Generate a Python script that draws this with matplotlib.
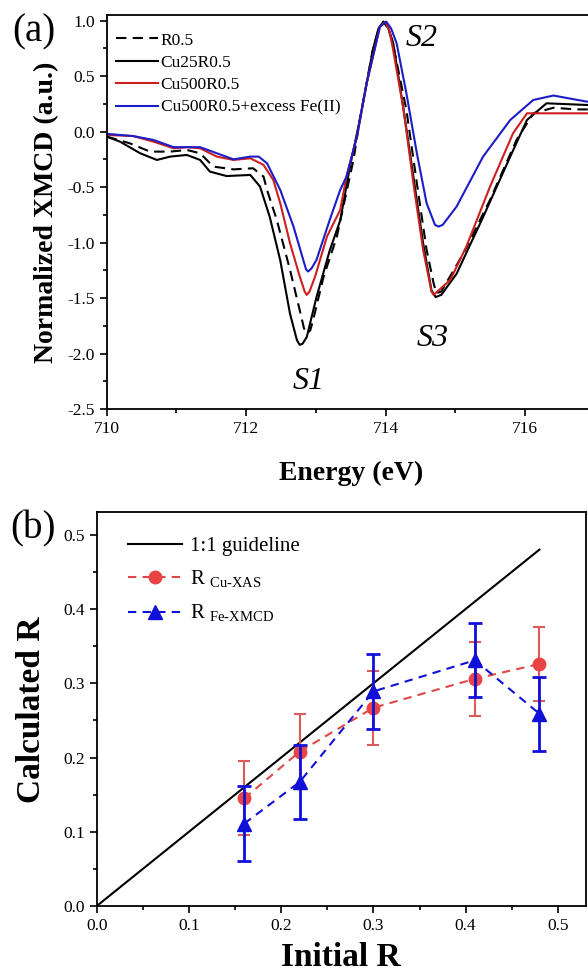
import numpy as np
import matplotlib
matplotlib.use("Agg")
import matplotlib.pyplot as plt
from matplotlib.ticker import MultipleLocator

plt.rcParams['font.family'] = ['Liberation Serif', 'DejaVu Serif']
plt.rcParams['mathtext.fontset'] = 'custom'
plt.rcParams['mathtext.rm'] = 'Liberation Serif'
plt.rcParams['axes.unicode_minus'] = False

# (a) XMCD spectra
e_r05 = [710.0, 710.33, 710.62, 710.91, 711.15, 711.34, 711.53, 711.82, 712.10, 712.25,
         712.30, 712.44, 712.63, 712.77, 712.83, 712.87, 712.92, 712.96, 713.11, 713.30, 713.54,
         713.63, 713.82, 713.90, 713.97, 714.04, 714.11, 714.30, 714.45, 714.59, 714.69, 714.73,
         714.80, 715.12, 715.50, 715.88, 716.12, 716.41, 716.74, 717.0]
y_r05 = [-0.045, -0.105, -0.18, -0.18, -0.165, -0.195, -0.315, -0.34, -0.33, -0.405,
         -0.525, -0.795, -1.245, -1.61, -1.77, -1.82, -1.79, -1.70, -1.31, -0.95, -0.255,
         0.105, 0.74, 0.92, 0.99, 0.93, 0.78, 0.195, -0.465, -1.065, -1.365, -1.455,
         -1.44, -1.095, -0.615, -0.075, 0.165, 0.215, 0.20, 0.20]

e_cu25 = [710.0, 710.19, 710.48, 710.72, 710.91, 711.15, 711.34, 711.48, 711.72, 712.06,
          712.20, 712.34, 712.49, 712.63, 712.73, 712.77, 712.81, 712.87, 713.01, 713.20, 713.35,
          713.49, 713.63, 713.82, 713.90, 713.97, 714.04, 714.11, 714.26, 714.40, 714.54, 714.66,
          714.72, 714.80, 715.02, 715.40, 715.79, 716.03, 716.31, 716.89, 717.0]
y_cu25 = [-0.045, -0.09, -0.195, -0.255, -0.225, -0.21, -0.255, -0.36, -0.40, -0.39,
          -0.495, -0.77, -1.16, -1.64, -1.88, -1.92, -1.91, -1.85, -1.49, -1.07, -0.80,
          -0.315, 0.105, 0.74, 0.93, 0.99, 0.93, 0.80, 0.195, -0.405, -1.005, -1.43,
          -1.49, -1.47, -1.28, -0.77, -0.225, 0.105, 0.255, 0.24, 0.235]

e_cu500 = [710.0, 710.38, 710.67, 710.96, 711.15, 711.34, 711.58, 711.82, 712.06, 712.25,
           712.39, 712.49, 712.63, 712.77, 712.84, 712.87, 712.91, 712.99, 713.16, 713.35, 713.44,
           713.59, 713.73, 713.92, 714.0, 714.06, 714.11, 714.26, 714.40, 714.54, 714.66, 714.69,
           714.93, 715.16, 715.50, 715.83, 716.03, 716.36, 716.89, 717.0]
y_cu500 = [-0.03, -0.04, -0.09, -0.15, -0.14, -0.15, -0.225, -0.255, -0.24, -0.30,
           -0.435, -0.645, -1.005, -1.305, -1.44, -1.47, -1.44, -1.305, -0.945, -0.705, -0.405,
           -0.045, 0.435, 0.945, 0.99, 0.90, 0.735, 0.195, -0.465, -1.065, -1.44, -1.47,
           -1.335, -1.035, -0.495, -0.015, 0.165, 0.165, 0.165, 0.165]

e_fe = [710.0, 710.38, 710.67, 710.96, 711.34, 711.58, 711.82, 712.06, 712.18, 712.30,
        712.49, 712.68, 712.82, 712.86, 712.89, 712.94, 713.01, 713.20, 713.35, 713.44, 713.59,
        713.73, 713.92, 714.01, 714.08, 714.16, 714.30, 714.45, 714.59, 714.71, 714.76, 714.82,
        715.02, 715.40, 715.79, 716.12, 716.41, 716.89, 717.0]
y_fe = [-0.02, -0.04, -0.075, -0.14, -0.14, -0.195, -0.25, -0.225, -0.225, -0.285,
        -0.525, -0.855, -1.155, -1.24, -1.26, -1.23, -1.155, -0.795, -0.525, -0.405, -0.045,
        0.435, 0.945, 0.99, 0.93, 0.795, 0.345, -0.195, -0.645, -0.84, -0.855, -0.84,
        -0.675, -0.225, 0.105, 0.285, 0.325, 0.27, 0.265]

# (b) calculated vs initial R
r_init = [0.16, 0.22, 0.30, 0.41, 0.48]
r_cu = [0.145, 0.208, 0.267, 0.306, 0.326]
r_cu_err = [0.05, 0.05, 0.05, 0.05, 0.05]
r_fe = [0.111, 0.167, 0.289, 0.331, 0.259]
r_fe_err = [0.05, 0.05, 0.05, 0.05, 0.05]
guide = [0.0, 0.48]

fig = plt.figure(figsize=(5.88, 9.76), dpi=100)

# ---- panel (a)
ax1 = fig.add_axes([0.1815, 0.5807, 0.8297, 0.4039])
ax1.plot(e_r05, y_r05, color='black', ls=(0, (5, 3)), lw=1.5, label='R0.5')
ax1.plot(e_cu25, y_cu25, color='black', lw=1.5, label='Cu25R0.5')
ax1.plot(e_cu500, y_cu500, color='#cc1f1f', lw=1.5, label='Cu500R0.5')
ax1.plot(e_fe, y_fe, color='#1c1cc8', lw=1.5, label='Cu500R0.5+excess Fe(II)')
ax1.set_xlim(710, 717)
ax1.set_ylim(-2.5, 1.05)
ax1.xaxis.set_major_locator(MultipleLocator(2))
ax1.xaxis.set_minor_locator(MultipleLocator(1))
ax1.yaxis.set_major_locator(MultipleLocator(0.5))
ax1.yaxis.set_minor_locator(MultipleLocator(0.25))
ax1.set_xlabel('Energy (eV)', fontsize=20, fontweight='bold', labelpad=17)
ax1.set_ylabel('Normalized XMCD (a.u.)', fontsize=20, fontweight='bold', labelpad=6)
ax1.legend(loc='upper left', fontsize=12.5, frameon=False, handlelength=2.4,
           handletextpad=0.15, labelspacing=0.36, borderaxespad=0.6,
           bbox_to_anchor=(-0.016, 1.0))
ax1.text(712.89, -2.25, 'S1', fontsize=23, style='italic', ha='center', va='center')
ax1.text(714.52, 0.84, 'S2', fontsize=23, style='italic', ha='center', va='center')
ax1.text(714.68, -1.86, 'S3', fontsize=23, style='italic', ha='center', va='center')

# ---- panel (b)
ax2 = fig.add_axes([0.1645, 0.0717, 0.8313, 0.4032])
ax2.plot(guide, guide, color='black', lw=1.5, label='1:1 guideline')
ax2.errorbar(r_init, r_cu, yerr=r_cu_err, fmt='none', ecolor='#dc5a5a', capsize=4,
             elinewidth=1.5, capthick=1.5)
ax2.plot(r_init, r_cu, color='#e04848', ls=(0, (4, 3)), lw=1.5, marker='o', ms=9,
         mec='#e84444', mfc='#e84444', label=r'R $_{\text{Cu-XAS}}$')
ax2.errorbar(r_init, r_fe, yerr=r_fe_err, fmt='none', ecolor='#1010d8', capsize=5,
             elinewidth=2, capthick=2)
ax2.plot(r_init, r_fe, color='#1010d8', ls=(0, (4, 3)), lw=1.5, marker='^', ms=10,
         label=r'R $_{\text{Fe-XMCD}}$')
ax2.set_xlim(0, 0.53)
ax2.set_ylim(0, 0.53)
ax2.xaxis.set_major_locator(MultipleLocator(0.1))
ax2.xaxis.set_minor_locator(MultipleLocator(0.05))
ax2.yaxis.set_major_locator(MultipleLocator(0.1))
ax2.yaxis.set_minor_locator(MultipleLocator(0.05))
ax2.set_xlabel('Initial R', fontsize=24, fontweight='bold', labelpad=6)
ax2.set_ylabel('Calculated R', fontsize=24, fontweight='bold', labelpad=12)
ax2.legend(loc='upper left', fontsize=15, frameon=False, handlelength=2.6,
           handletextpad=0.4, labelspacing=0.6, borderaxespad=1.1,
           bbox_to_anchor=(0.0, 1.018))

for ax in (ax1, ax2):
    ax.tick_params(which='both', direction='out', top=False, right=False, labelsize=12.5)
    ax.tick_params(which='major', length=5, width=1.2)
    ax.tick_params(which='minor', length=3, width=1.2)
    for s in ax.spines.values():
        s.set_linewidth(1.3)

fig.text(0.058, 0.967, '(a)', fontsize=28, ha='center', va='center')
fig.text(0.056, 0.458, '(b)', fontsize=28, ha='center', va='center')

fig.savefig('out.png', dpi=100)
